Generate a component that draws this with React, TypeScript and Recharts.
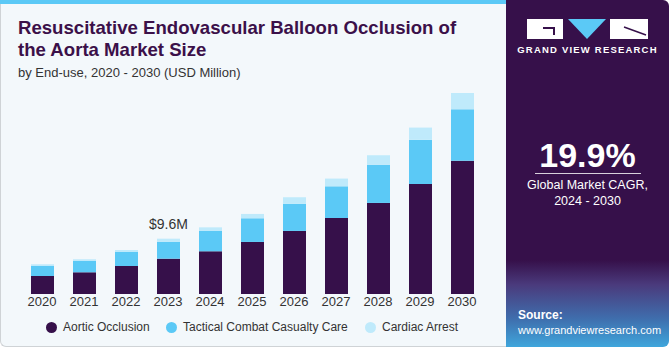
import React from 'react';
import { BarChart, Bar, XAxis, YAxis, LabelList } from 'recharts';

const years = ['2020', '2021', '2022', '2023', '2024', '2025', '2026', '2027', '2028', '2029', '2030'];
const aorticOcclusion = [3.12, 3.77, 4.86, 6.13, 7.41, 9.03, 10.94, 13.19, 15.8, 19.1, 23.14];
const tacticalCombat = [1.74, 1.96, 2.43, 2.9, 3.52, 4.11, 4.69, 5.5, 6.6, 7.64, 8.91];
const cardiacArrest = [0.3, 0.3, 0.35, 0.57, 0.64, 0.75, 1.16, 1.34, 1.68, 2.14, 2.83];
const calloutIndex = 3;
const calloutText = '$9.6M';

const DARK = '#36104a';
const BLUE = '#5bc9f6';
const LIGHT = '#bfeafb';
const FONT = '"Liberation Sans", Arial, sans-serif';

const data = years.map((year, i) => ({
  year,
  aortic: aorticOcclusion[i],
  tactical: tacticalCombat[i],
  cardiac: cardiacArrest[i],
}));

const legendItems = [
  { name: 'Aortic Occlusion', color: DARK },
  { name: 'Tactical Combat Casualty Care', color: BLUE },
  { name: 'Cardiac Arrest', color: LIGHT },
];

function Callout(props: any) {
  const { x, y, width, index } = props;
  if (index !== calloutIndex) return null;
  return (
    <text x={x + width / 2} y={y - 10} textAnchor="middle" fontSize={14} fill="#333" fontFamily={FONT}>
      {calloutText}
    </text>
  );
}

function Logo() {
  return (
    <svg width={122} height={20} style={{ position: 'absolute', left: 527, top: 19 }}>
      <rect x={0} y={0} width={36} height={20} fill="#fff" />
      <rect x={16} y={8} width={10} height={2} fill={DARK} />
      <rect x={26} y={8} width={2} height={8} fill={DARK} />
      <polygon points="41,0 79,0 60,20" fill={BLUE} />
      <rect x={83} y={0} width={38} height={20} fill="#fff" />
      <line x1={97} y1={8} x2={119} y2={16} stroke={DARK} strokeWidth={1.5} />
    </svg>
  );
}

export default function App() {
  return (
    <div style={{ position: 'absolute', left: 0, top: 0, width: 671, height: 350, background: '#fff', fontFamily: FONT, overflow: 'hidden' }}>
      {/* left panel */}
      <div style={{ position: 'absolute', left: 0, top: 0, width: 506, height: 347, background: '#f3f8fb', borderLeft: '1px solid #cfd3d6', borderBottom: '1px solid #cfd3d6', borderBottomLeftRadius: 6, boxSizing: 'border-box' }} />
      <div style={{ position: 'absolute', left: 0, top: 0, width: 506, height: 4, background: BLUE }} />
      <div style={{ position: 'absolute', left: 18, top: 17, fontSize: 18.6, fontWeight: 'bold', color: '#3b1049', lineHeight: '22px' }}>
        Resuscitative Endovascular Balloon Occlusion of
        <br />
        the Aorta Market Size
      </div>
      <div style={{ position: 'absolute', left: 18, top: 65, fontSize: 13, color: '#333', lineHeight: '16px' }}>
        by End-use, 2020 - 2030 (USD Million)
      </div>

      <div style={{ position: 'absolute', left: 0, top: 80 }}>
        <BarChart width={506} height={240} data={data} margin={{ top: 10, right: 23, bottom: 6, left: 21 }}>
          <XAxis
            dataKey="year"
            axisLine={false}
            tickLine={false}
            tickSize={0}
            tickMargin={3}
            height={20}
            interval={0}
            tick={{ fontSize: 13, fill: '#333', fontFamily: FONT }}
          />
          <YAxis hide domain={[0, 35.4]} />
          <Bar dataKey="aortic" stackId="a" fill={DARK} barSize={23} isAnimationActive={false} />
          <Bar dataKey="tactical" stackId="a" fill={BLUE} barSize={23} isAnimationActive={false} />
          <Bar dataKey="cardiac" stackId="a" fill={LIGHT} barSize={23} isAnimationActive={false}>
            <LabelList dataKey="cardiac" content={<Callout />} />
          </Bar>
        </BarChart>
      </div>

      {/* legend */}
      {legendItems.map((item, i) => (
        <div key={item.name} style={{ position: 'absolute', top: 319, left: [46, 166, 365][i], display: 'flex', alignItems: 'center', fontSize: 12, color: '#333', lineHeight: '16px' }}>
          <span style={{ width: 11, height: 11, borderRadius: '50%', background: item.color, marginRight: 6, display: 'inline-block' }} />
          {item.name}
        </div>
      ))}

      {/* right panel */}
      <div style={{ position: 'absolute', left: 506, top: 0, width: 163, height: 347, background: `linear-gradient(180deg, ${DARK} 0%, ${DARK} 75%, #4a3a7c 82%, #3f6fae 92%, #3fa6dc 100%)`, borderTopRightRadius: 6, borderBottomRightRadius: 6 }} />
      <Logo />
      <div style={{ position: 'absolute', left: 506, top: 44, width: 163, textAlign: 'center', color: '#fff', fontSize: 9.5, fontWeight: 'bold', letterSpacing: 1.2 }}>
        GRAND VIEW RESEARCH
      </div>
      <div style={{ position: 'absolute', left: 506, top: 135, width: 163, textAlign: 'center', color: '#fff', fontSize: 34, fontWeight: 'bold', lineHeight: '40px' }}>
        19.9%
      </div>
      <div style={{ position: 'absolute', left: 535, top: 173, width: 106, height: 1, background: '#d8d0dc' }} />
      <div style={{ position: 'absolute', left: 506, top: 177, width: 163, textAlign: 'center', color: '#fff', fontSize: 12.5, lineHeight: '16px' }}>
        Global Market CAGR,
        <br />
        2024 - 2030
      </div>
      <div style={{ position: 'absolute', left: 518, top: 308, color: '#fff', fontSize: 12, fontWeight: 'bold', lineHeight: '15px' }}>
        Source:
      </div>
      <div style={{ position: 'absolute', left: 518, top: 323, color: '#fff', fontSize: 11, lineHeight: '14px', whiteSpace: 'nowrap' }}>
        www.grandviewresearch.com
      </div>
    </div>
  );
}
